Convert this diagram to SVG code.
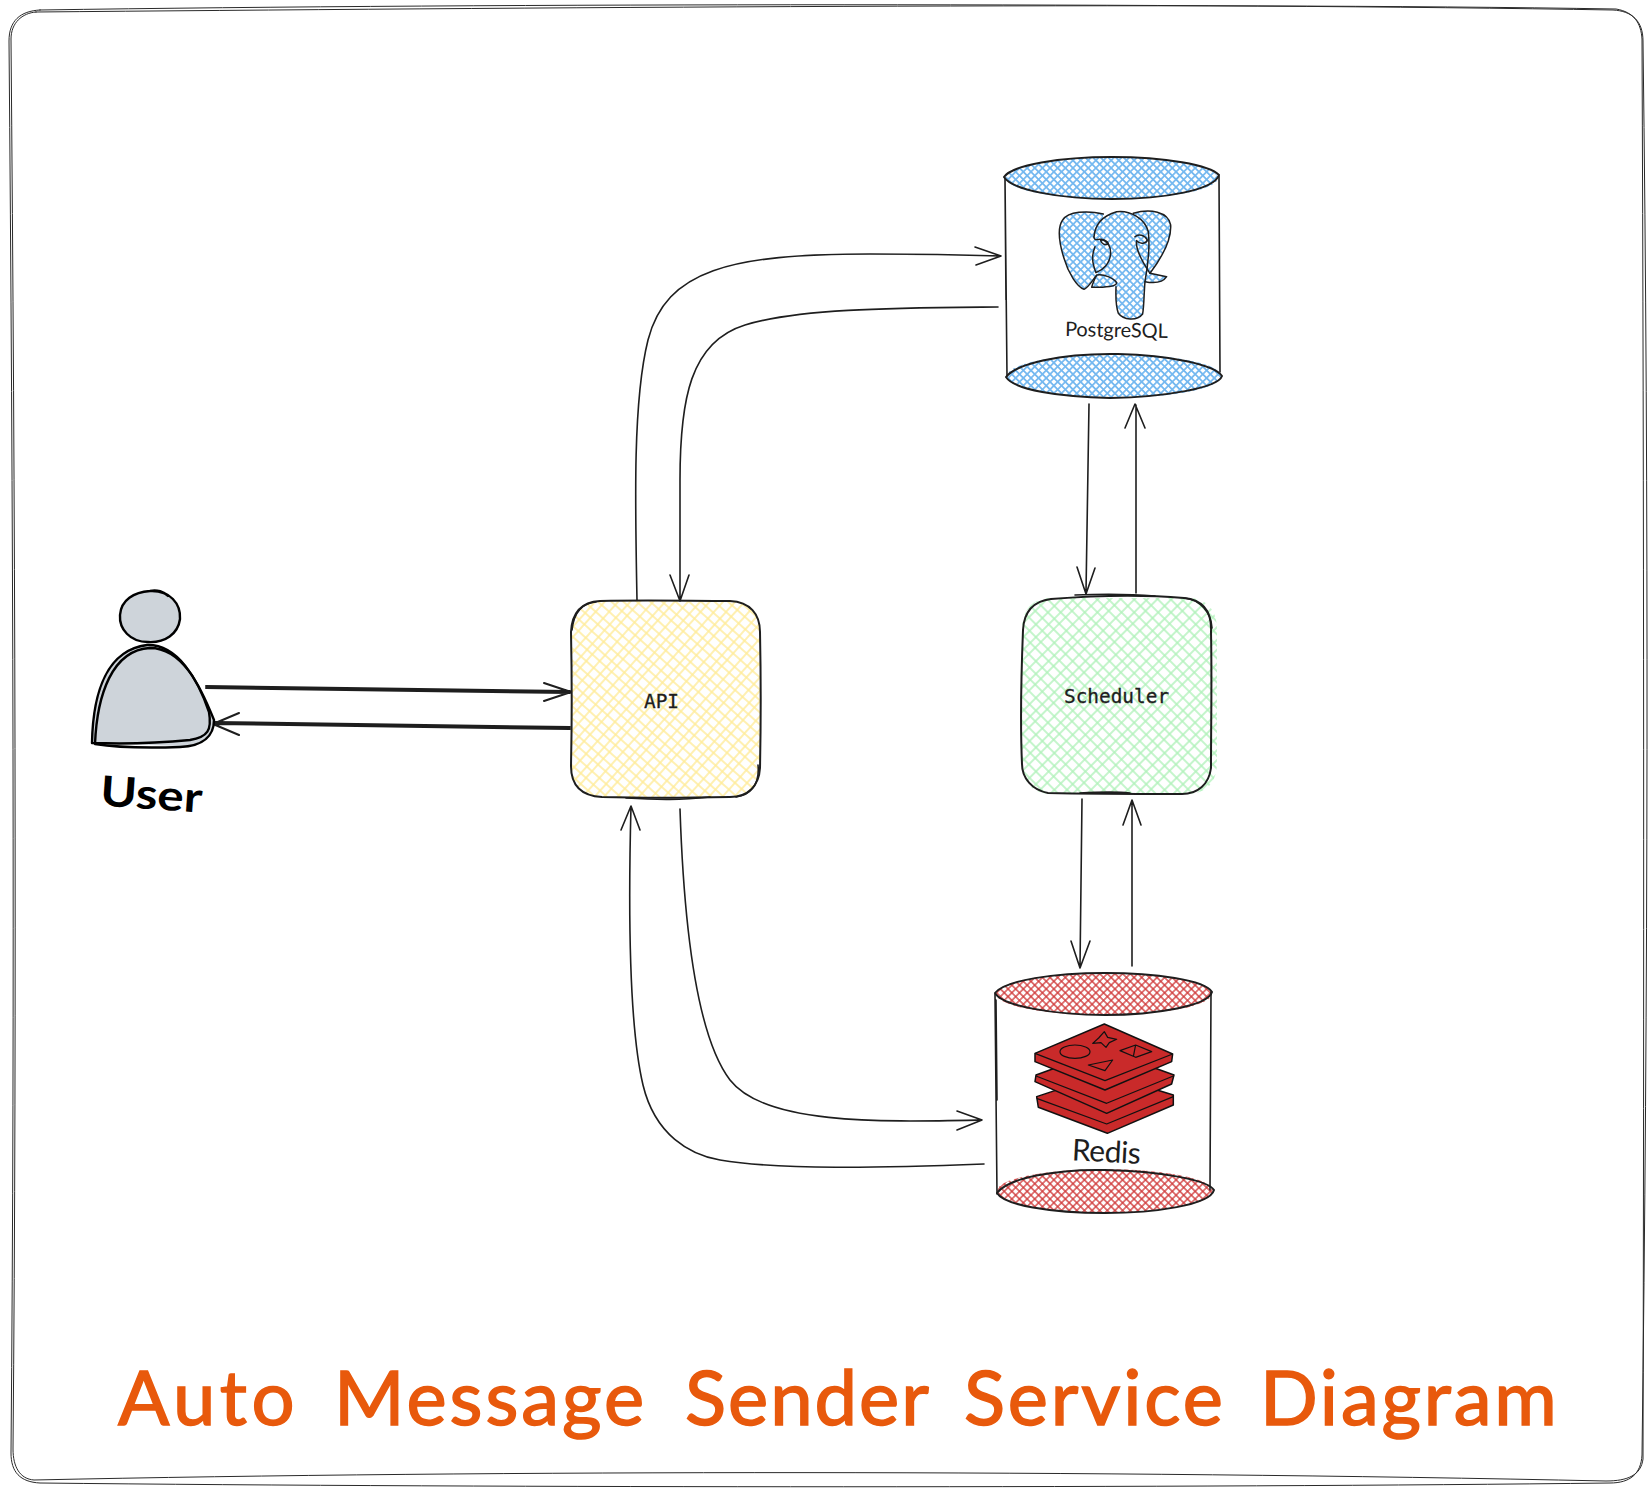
<svg xmlns="http://www.w3.org/2000/svg" width="1652" height="1492" viewBox="0 0 1652 1492">
<style>
.ln{fill:none;stroke:#1e1e1e;stroke-width:1.6;stroke-linecap:round;stroke-linejoin:round}
.th{fill:none;stroke:#1e1e1e;stroke-width:2;stroke-linecap:round;stroke-linejoin:round}
.bk{fill:none;stroke:#000;stroke-width:2.4;stroke-linecap:round;stroke-linejoin:round}
.fr{fill:none;stroke:#2a2a2a;stroke-width:1;stroke-linecap:round}
.mono{font-family:"DejaVu Sans Mono","Liberation Mono",monospace;font-size:19.4px;fill:#1e1e1e;stroke:#1e1e1e;stroke-width:.3}
.hand{font-family:Lato,"Open Sans",sans-serif;fill:#1e1e1e}
.z{fill:none;stroke:#1e1e1e;stroke-width:4.5;stroke-linecap:round;stroke-linejoin:round}
.rd{fill:#c92a2a;stroke:#111;stroke-width:4.5;stroke-linejoin:round}
.rl{fill:none;stroke:#111;stroke-width:3.6;stroke-linejoin:round}
.ttl{font-family:Lato,"Open Sans",sans-serif;font-size:76px;fill:#e8590c;stroke:#e8590c;stroke-width:1.5}
</style>
<defs>
<pattern id="hy" width="26" height="26" patternUnits="userSpaceOnUse" patternTransform="rotate(42)"><path d="M0 4H26M0 12H26M0 21H26M4 0V26M13 0V26M20 0V26" stroke="#ffec99" stroke-width="1.5" fill="none"/></pattern>
<pattern id="hg" width="26" height="26" patternUnits="userSpaceOnUse" patternTransform="rotate(45)"><path d="M0 4H26M0 12H26M0 21H26M4 0V26M13 0V26M20 0V26" stroke="#b2f2bb" stroke-width="1.5" fill="none"/></pattern>
<pattern id="hb" width="5.4" height="5.4" patternUnits="userSpaceOnUse" patternTransform="rotate(45)"><path d="M0 2.7H5.4M2.7 0V5.4" stroke="#74b8f0" stroke-width="1.7" fill="none"/></pattern>
<pattern id="hbz" width="16" height="16" patternUnits="userSpaceOnUse" patternTransform="rotate(45)"><path d="M0 8H16M8 0V16" stroke="#74b8f0" stroke-width="5" fill="none"/></pattern>
<pattern id="hr" width="5.4" height="5.4" patternUnits="userSpaceOnUse" patternTransform="rotate(45)"><path d="M0 2.7H5.4M2.7 0V5.4" stroke="#d03a3a" stroke-width="1.3" fill="none"/></pattern>
</defs>
<rect width="1652" height="1492" fill="#fff"/>
<g id="frame">
<path class="fr" d="M40 10C500 3 1200 3 1613 10C1632 11 1643 21 1643 41C1649 500 1648 1000 1642 1455C1641 1474 1630 1483 1610 1483C1200 1488 500 1488 40 1483C20 1482 11 1472 11 1453C15 1000 13 500 9 41C9 21 20 11 40 10Z"/>
<path class="fr" d="M36 12C500 8 1200 2 1616 9C1634 12 1641 23 1642 39C1644 500 1644 1000 1643 1459C1641 1475 1628 1481 1606 1481C1100 1470 500 1470 34 1480C20 1479 13 1467 13 1449C17 1000 15 500 11 39C11 23 22 13 36 12Z"/>
</g>
<g id="connectors">
<path class="ln" d="M637 600C635 500 633 400 648 340C666 270 730 254 870 254C920 254 970 255 1000 256M975 247L1001 256L976 265"/>
<path class="ln" d="M998 307C900 308 800 308 745 325C690 342 680 400 680 480C680 520 680 570 680 600M670 575L680 601L689 575"/>
<path class="ln" d="M1089 404L1086 593M1077 567L1086 594L1095 568"/>
<path class="ln" d="M1136 593L1136 405M1125 428L1135 404L1145 428"/>
<path class="ln" d="M1082 799L1080 967M1071 941L1080 968L1090 941"/>
<path class="ln" d="M1132 966L1132 800M1123 825L1132 800L1141 825"/>
<path class="ln" d="M680 809C683 900 692 1030 730 1080C765 1125 880 1122 982 1120M957 1111L982 1120L957 1130"/>
<path class="ln" d="M984 1164C880 1168 780 1170 720 1160C690 1155 655 1135 643 1085C630 1030 628 920 631 806M621 830L631 806L640 830"/>
<path class="th" d="M206 686L570 691M206 688L570 693M544 683L571 692L544 701"/>
<path class="th" d="M570 729L214 724M570 727L214 722M239 713L213 724L239 735"/>
</g>
<g id="user">
<ellipse cx="150" cy="617" rx="30" ry="26" fill="#ced4da" stroke="none"/>
<path class="bk" d="M150 591C170 590 181 604 180 619C178 634 165 643 148 642C130 642 119 629 120 615C121 600 134 592 150 591C157 589 164 592 168 596"/>
<path d="M92 743C94 690 110 646 148 644C180 644 198 680 213 720C214 735 205 745 180 746Z" fill="#ced4da"/>
<path class="bk" d="M92 743C93 690 108 650 147 645C178 644 198 680 209 712C212 730 208 737 190 740C160 743 120 744 92 743Z"/>
<path class="bk" d="M95 744C97 695 112 650 150 648C182 648 200 685 214 720C214 735 204 746 180 747C150 748 120 748 95 744Z"/>
<text class="hand" x="100" y="809" font-size="42" font-weight="700" textLength="102" lengthAdjust="spacingAndGlyphs" transform="rotate(4 150 800)" style="fill:#000">User</text>
</g>
<g id="api">
<path d="M602 601H730C750 601 760 612 760 632V766C760 786 750 797 730 797H602C582 797 571 786 571 766V632C571 612 582 601 602 601Z" fill="url(#hy)"/>
<path class="th" d="M600 601C650 600 690 601 730 601C750 602 760 614 760 632C761 680 761 720 760 768C759 786 748 797 730 797C680 798 640 798 602 797C582 796 571 786 571 766C572 720 572 680 571 632C572 612 582 602 600 601Z"/>
<path class="ln" d="M596 602C582 603 574 612 572 630M626 798C660 800 680 800 710 797M758 765C760 785 750 795 736 797"/>
<text class="mono" x="644" y="708">API</text>
</g>
<g id="scheduler">
<path d="M1052 598H1187C1207 598 1217 610 1217 630V762C1217 782 1207 794 1187 794H1052C1032 794 1022 782 1022 762V630C1022 610 1032 598 1052 598Z" fill="url(#hg)"/>
<path class="th" d="M1051 599C1100 595 1150 595 1184 598C1204 600 1212 612 1211 632C1212 680 1211 720 1211 768C1209 784 1198 794 1182 794C1130 794 1090 794 1048 793C1032 790 1022 778 1022 764C1020 720 1021 680 1023 630C1024 610 1035 601 1051 599Z"/>
<path class="ln" d="M1185 598C1200 600 1211 612 1212 628M1075 595C1100 594 1130 594 1155 596M1080 793C1100 792 1120 792 1130 793"/>
<text class="mono" x="1064" y="703">Scheduler</text>
</g>
<g id="postgresql">
<ellipse cx="1112" cy="178" rx="106" ry="21" fill="url(#hb)"/>
<ellipse cx="1114" cy="376" rx="107" ry="22" fill="url(#hb)"/>
<path class="th" d="M1004 177C1012 165 1060 157 1112 157C1165 157 1210 165 1219 175C1214 190 1165 199 1112 199C1060 199 1012 190 1004 177Z"/>
<path class="th" d="M1006 377C1016 364 1060 353 1118 354C1170 355 1215 365 1222 376C1218 388 1165 397 1110 398C1060 397 1014 390 1006 377Z"/>
<path class="ln" d="M1005 178L1007 376M1219 176L1220 372M1005 180L1006 300"/>
<g id="elephant" transform="translate(960 130) scale(.3333)">
<path d="M430 250C380 240 330 245 310 265C290 290 298 330 310 380C325 430 350 470 372 478L398 450L410 432Z" fill="url(#hbz)"/>
<path d="M402 320C405 285 425 258 470 245C510 240 555 265 565 305C570 350 565 400 555 455C552 490 552 530 548 552C530 575 490 570 475 550C465 520 468 490 468 470L395 472L410 430C395 400 395 375 405 350Z" fill="url(#hbz)"/>
<path d="M520 250C570 235 625 245 632 285C635 335 600 390 570 430L620 440C610 455 590 462 555 455L565 305Z" fill="url(#hbz)"/>
<path class="z" d="M430 252C380 240 325 245 308 270C290 295 298 340 312 385C325 430 352 472 372 478C385 472 395 455 408 438"/>
<path class="z" d="M402 320C405 285 425 258 470 245C510 240 555 265 565 305C570 350 565 400 555 455C552 490 552 530 548 552C530 575 490 570 475 550C465 520 468 490 468 470"/>
<path class="z" d="M405 350C395 375 395 395 408 428C430 420 450 400 452 370C452 350 445 335 425 328C412 326 405 335 402 322"/>
<path class="z" d="M520 250C570 235 625 245 632 285C635 335 600 390 570 430L620 440C610 455 590 462 555 455"/>
<path class="z" d="M410 435C430 430 462 445 470 458C470 470 440 472 395 472C398 460 405 445 410 435Z"/>
<path class="z" d="M525 320C535 310 555 315 562 330C560 340 540 345 530 332C525 360 550 400 570 430"/>
<path class="z" d="M422 332C430 325 445 335 445 342C435 346 425 342 422 332Z"/>
</g>
<text class="hand" x="1065" y="337" font-size="20" textLength="103" lengthAdjust="spacing" transform="rotate(1 1116 330)">PostgreSQL</text>
</g>
<g id="redis">
<ellipse cx="1104" cy="994" rx="108" ry="21" fill="url(#hr)"/>
<ellipse cx="1105" cy="1191" rx="108" ry="22" fill="url(#hr)"/>
<path class="th" d="M995 993C1005 980 1055 973 1105 973C1155 973 1205 980 1212 992C1208 1006 1155 1015 1105 1015C1055 1015 1002 1006 995 993Z"/>
<path class="th" d="M997 1193C1008 1178 1055 1169 1105 1170C1160 1171 1208 1180 1214 1190C1210 1205 1155 1213 1105 1213C1050 1213 1004 1205 997 1193Z"/>
<path class="ln" d="M995 994L997 1194M1211 992L1210 1190M996 1000L997 1100"/>
<g id="redislogo" transform="translate(970 950) scale(.3333)">
<path class="rd" d="M200 440L405 372L610 435L610 465L412 550L205 472Z"/>
<path class="rl" d="M200 445L410 522L610 440"/>
<path class="rd" d="M198 375L405 300L612 375L605 402L410 490L195 395Z"/>
<path class="rl" d="M198 378L410 460L610 378"/>
<path class="rd" d="M403 222L608 312L605 335L405 420L195 335L195 310Z"/>
<path class="rl" d="M195 310L405 392L608 312"/>
<ellipse cx="315" cy="305" rx="45" ry="20" class="rl"/>
<path class="rl" d="M403 245L413 262L440 268L418 278L408 292L393 278L368 280L386 264Z"/>
<path class="rl" d="M355 345L428 330L405 362Z"/>
<path class="rl" d="M450 302L497 285L545 305L497 322ZM497 285L490 320"/>
</g>
<text class="hand" x="1072" y="1162" font-size="30" textLength="69" lengthAdjust="spacing" transform="rotate(3 1106 1150)">Redis</text>
</g>
<text id="title" class="ttl" y="1425"><tspan x="118" letter-spacing="4.5">Auto</tspan> <tspan x="334" letter-spacing="3">Message</tspan> <tspan x="685" letter-spacing="2">Sender</tspan> <tspan x="964" letter-spacing="2.8">Service</tspan> <tspan x="1260" letter-spacing="2.8">Diagram</tspan></text>
</svg>
